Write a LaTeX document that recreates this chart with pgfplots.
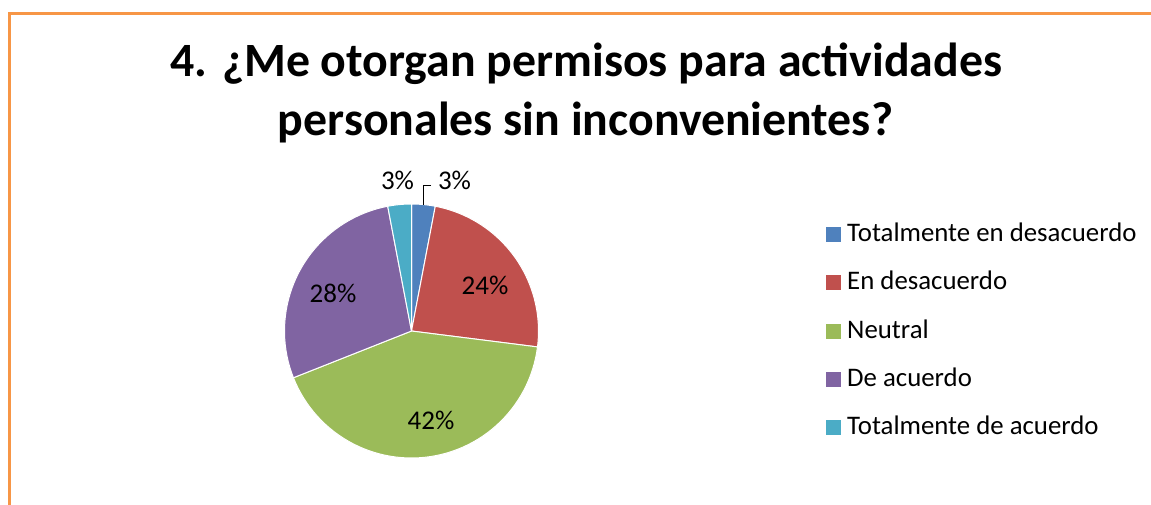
\documentclass[border=0pt]{standalone}
\usepackage{pgfplots}
\pgfplotsset{compat=1.18}
\usepackage{fontspec}
\setmainfont{Carlito}
\definecolor{c1}{HTML}{4F81BD}
\definecolor{c2}{HTML}{C0504D}
\definecolor{c3}{HTML}{9BBB59}
\definecolor{c4}{HTML}{8064A2}
\definecolor{c5}{HTML}{4BACC6}
\definecolor{frameorange}{HTML}{F79646}
% shares (percent): 3, 24, 42, 28, 3  -> 3.6 degrees per percent, clockwise from 90
\begin{document}
\begin{tikzpicture}[x=1pt,y=1pt]
\useasboundingbox (0,0) rectangle (1151,504);
\clip (0,0) rectangle (1151,504);
\fill[white] (0,0) rectangle (1151,504);
\draw[frameorange, line width=3.5pt] (1160,490.5) -- (9.5,490.5) -- (9.5,-10);
\begin{axis}[
  at={(411.5pt,173pt)}, anchor=center,
  scale only axis, width=254pt, height=254pt,
  xmin=-1, xmax=1, ymin=-1, ymax=1,
  hide axis, clip=false,
  legend style={at={(2.132,0.5)}, anchor=west, draw=none, fill=none,
    font=\fontsize{26.8}{32}\selectfont, inner sep=0pt, row sep=24.25pt, column sep=6pt,
    nodes={inner sep=0pt, text height=19pt, text depth=5pt}},
  legend cell align=left,
  legend image code/.code={\fill[#1, draw=none] (0pt,-7.5pt) rectangle (15pt,7.5pt);},
]
\addplot[fill=c1, draw=white, line width=1pt, domain={90-3.6*3}:{90}, samples=10] ({cos(x)},{sin(x)}) -- (0,0) -- cycle;
\addplot[fill=c2, draw=white, line width=1pt, domain={90-3.6*27}:{90-3.6*3}, samples=40] ({cos(x)},{sin(x)}) -- (0,0) -- cycle;
\addplot[fill=c3, draw=white, line width=1pt, domain={90-3.6*69}:{90-3.6*27}, samples=60] ({cos(x)},{sin(x)}) -- (0,0) -- cycle;
\addplot[fill=c4, draw=white, line width=1pt, domain={90-3.6*97}:{90-3.6*69}, samples=40] ({cos(x)},{sin(x)}) -- (0,0) -- cycle;
\addplot[fill=c5, draw=white, line width=1pt, domain={90-3.6*100}:{90-3.6*97}, samples=10] ({cos(x)},{sin(x)}) -- (0,0) -- cycle;
\legend{Totalmente en desacuerdo, En desacuerdo, Neutral, De acuerdo, Totalmente de acuerdo}
\end{axis}
% title
\node[anchor=base, font=\fontsize{47.8}{58}\selectfont\bfseries] at (586.5,427) {4. ¿Me otorgan permisos para actividades};
\node[anchor=base, font=\fontsize{47.8}{58}\selectfont\bfseries] at (585.5,368) {personales sin inconvenientes?};
% data labels
\begin{scope}[every node/.style={font=\fontsize{27}{32}\selectfont, inner sep=0pt}]
\node at (485,219) {24\%};
\node at (431,84) {42\%};
\node at (333,211) {28\%};
\node at (397.5,324) {3\%};
\node at (454.5,324) {3\%};
\end{scope}
\draw[black, line width=1pt] (431,318) -- (423,318) -- (423,299);
\end{tikzpicture}
\end{document}
